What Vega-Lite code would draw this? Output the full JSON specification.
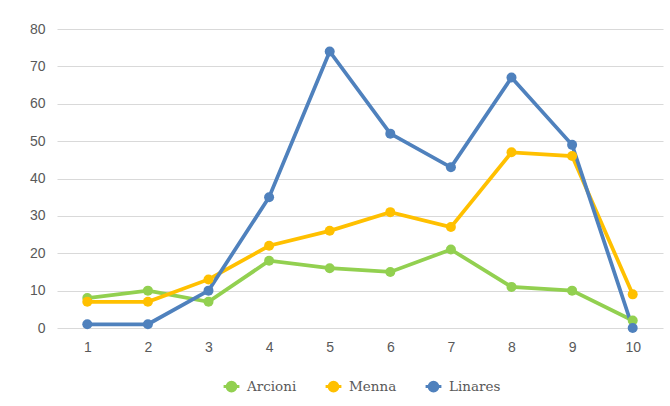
{
  "$schema": "https://vega.github.io/schema/vega-lite/v6.json",
  "width": 606,
  "height": 299,
  "autosize": {"type": "none"},
  "padding": {"left": 57, "top": 29, "right": 7, "bottom": 78},
  "background": "white",
  "data": {
    "values": [
      {"x": 1, "serie": "Arcioni", "v": 8},
      {"x": 2, "serie": "Arcioni", "v": 10},
      {"x": 3, "serie": "Arcioni", "v": 7},
      {"x": 4, "serie": "Arcioni", "v": 18},
      {"x": 5, "serie": "Arcioni", "v": 16},
      {"x": 6, "serie": "Arcioni", "v": 15},
      {"x": 7, "serie": "Arcioni", "v": 21},
      {"x": 8, "serie": "Arcioni", "v": 11},
      {"x": 9, "serie": "Arcioni", "v": 10},
      {"x": 10, "serie": "Arcioni", "v": 2},
      {"x": 1, "serie": "Menna", "v": 7},
      {"x": 2, "serie": "Menna", "v": 7},
      {"x": 3, "serie": "Menna", "v": 13},
      {"x": 4, "serie": "Menna", "v": 22},
      {"x": 5, "serie": "Menna", "v": 26},
      {"x": 6, "serie": "Menna", "v": 31},
      {"x": 7, "serie": "Menna", "v": 27},
      {"x": 8, "serie": "Menna", "v": 47},
      {"x": 9, "serie": "Menna", "v": 46},
      {"x": 10, "serie": "Menna", "v": 9},
      {"x": 1, "serie": "Linares", "v": 1},
      {"x": 2, "serie": "Linares", "v": 1},
      {"x": 3, "serie": "Linares", "v": 10},
      {"x": 4, "serie": "Linares", "v": 35},
      {"x": 5, "serie": "Linares", "v": 74},
      {"x": 6, "serie": "Linares", "v": 52},
      {"x": 7, "serie": "Linares", "v": 43},
      {"x": 8, "serie": "Linares", "v": 67},
      {"x": 9, "serie": "Linares", "v": 49},
      {"x": 10, "serie": "Linares", "v": 0}
    ]
  },
  "encoding": {
    "x": {
      "field": "x", "type": "ordinal",
      "scale": {"type": "point", "padding": 0.5},
      "axis": {
        "title": null, "labelAngle": 0, "domain": false, "ticks": false,
        "labelPadding": 12, "labelFont": "Liberation Sans", "labelFontSize": 14,
        "labelColor": "#595959", "grid": false
      }
    },
    "y": {
      "field": "v", "type": "quantitative",
      "scale": {"domain": [0, 80]},
      "axis": {
        "title": null, "values": [0, 10, 20, 30, 40, 50, 60, 70, 80],
        "domain": false, "ticks": false, "labelPadding": 12,
        "labelFont": "Liberation Sans", "labelFontSize": 14, "labelColor": "#595959",
        "gridColor": "#d9d9d9", "gridWidth": 1
      }
    },
    "color": {
      "field": "serie", "type": "nominal",
      "scale": {"domain": ["Arcioni", "Menna", "Linares"], "range": ["#92D050", "#FFC000", "#4F81BD"]},
      "legend": {
        "title": null, "orient": "none", "direction": "horizontal",
        "legendX": 165, "legendY": 348,
        "labelFont": "DejaVu Serif", "labelFontSize": 13.5, "labelColor": "#595959",
        "symbolType": "M-1,0L1,0M-0.55,0A0.55,0.55 0 1,1 0.55,0A0.55,0.55 0 1,1 -0.55,0Z",
        "symbolSize": 250, "symbolStrokeWidth": 3, "columnPadding": 22, "labelOffset": 6
      }
    }
  },
  "layer": [
    {"mark": {"type": "line", "strokeWidth": 3.75}, "encoding": {"detail": {"field": "serie"}}},
    {"mark": {"type": "circle", "size": 100, "opacity": 1}}
  ],
  "config": {"view": {"stroke": null}}
}
